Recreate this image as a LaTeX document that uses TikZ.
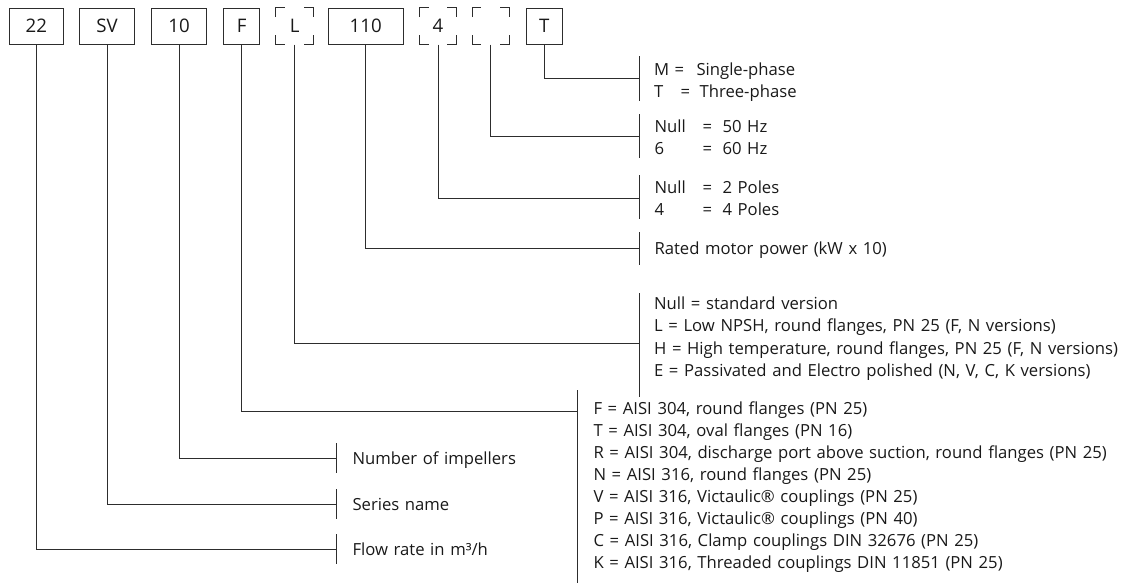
\documentclass[tikz,border=0pt]{standalone}
\usepackage{fontspec}
\setmainfont{Open Sans}[WordSpace=1.3]
\definecolor{lc}{RGB}{45,45,45}
\definecolor{tc}{RGB}{25,25,25}
\newcommand{\keycol}[2]{\makebox[#1][l]{#2}}
\begin{document}
\begin{tikzpicture}[x=0.75pt,y=-0.75pt,line width=0.75pt,
  box/.style={draw=lc, inner sep=0pt, minimum height=26.8pt, font=\fontsize{14}{16}\selectfont, text=tc},
  dbox/.style={box, draw=none},
  wide/.style={minimum width=40.9pt},
  narrow/.style={minimum width=27.4pt},
  xwide/.style={minimum width=56pt},
  lbl/.style={anchor=base west, inner sep=0pt, align=left, font=\fontsize{12.5}{16.5}\selectfont, text=tc},
  conn/.style={draw=lc},
  bar/.style={draw=lc}]
\useasboundingbox (0,0) rectangle (1132,583);

% code boxes
\node[box,wide]   (b22)  at (36.3,26.2)  {22};
\node[box,wide]   (bSV)  at (107,26.2)   {SV};
\node[box,wide]   (b10)  at (179,26.2)   {10};
\node[box,narrow] (bF)   at (241.6,26.2) {F};
\node[dbox,narrow](bL)   at (294.6,26.2) {L};
\node[box,xwide]  (b110) at (365.7,26.2) {110};
\node[dbox,narrow](b4)   at (438,26.2)   {4};
\node[dbox,narrow](bE)   at (490.8,26.2) {};
\node[box,narrow] (bT)   at (544.4,26.2) {T};

\foreach \n in {bL,b4,bE}{
  \draw[lc] ([yshift=-7pt]\n.north west) -- (\n.north west) -- ([xshift=7pt]\n.north west);
  \draw[lc] ([xshift=-7pt]\n.north east) -- (\n.north east) -- ([yshift=-7pt]\n.north east);
  \draw[lc] ([yshift=7pt]\n.south west) -- (\n.south west) -- ([xshift=7pt]\n.south west);
  \draw[lc] ([xshift=-7pt]\n.south east) -- (\n.south east) -- ([yshift=7pt]\n.south east);
}

% junction points and bars
\coordinate (jT)   at (639,78.3);  \coordinate (aT)   at (639,56);    \coordinate (zT)   at (639,101);
\coordinate (jE)   at (639,136);   \coordinate (aE)   at (639,114);   \coordinate (zE)   at (639,158);
\coordinate (j4)   at (639,198);   \coordinate (a4)   at (639,175);   \coordinate (z4)   at (639,219);
\coordinate (j110) at (639,248);   \coordinate (a110) at (639,232);   \coordinate (z110) at (639,265);
\coordinate (jL)   at (639,343);   \coordinate (aL)   at (639,293);   \coordinate (zL)   at (639,397);
\coordinate (jF)   at (577,411);   \coordinate (aF)   at (577,390);   \coordinate (zF)   at (577,583);
\coordinate (j10)  at (336,458.5); \coordinate (a10)  at (336,443);   \coordinate (z10)  at (336,473);
\coordinate (jSV)  at (336,504);   \coordinate (aSV)  at (336,489);   \coordinate (zSV)  at (336,519);
\coordinate (j22)  at (336,549);   \coordinate (a22)  at (336,534);   \coordinate (z22)  at (336,564);

\foreach \k in {T,E,4,110,L,F,10,SV,22}{
  \draw[conn] (b\k.south) |- (j\k);
  \draw[bar] (a\k) -- (z\k);
}

% labels (base anchor = baseline of the last line)
\node[lbl] (tT) at (653.5,97.2) {\keycol{15.4pt}{M}\keycol{16.5pt}{=}Single-phase\\\keycol{19.9pt}{T}\keycol{14.3pt}{=}Three-phase};
\node[lbl] (tE) at (654,154.2) {\keycol{36pt}{Null}\keycol{15pt}{=}50 Hz\\\keycol{36pt}{6}\keycol{15pt}{=}60 Hz};
\node[lbl] (t4) at (654,215.2) {\keycol{36pt}{Null}\keycol{15pt}{=}2 Poles\\\keycol{36pt}{4}\keycol{15pt}{=}4 Poles};
\node[lbl] (t110) at (654,254.2) {Rated motor power (kW x 10)};
\node[lbl,font=\fontsize{12.5}{16.9}\selectfont] (tL) at (653.6,376.7) {Null = standard version\\
L = Low NPSH, round flanges, PN 25 (F, N versions)\\
H = High temperature, round flanges, PN 25 (F, N versions)\\
E = Passivated and Electro polished (N, V, C, K versions)};
\node[lbl] (tF) at (593,568.8) {F = AISI 304, round flanges (PN 25)\\
T = AISI 304, oval flanges (PN 16)\\
R = AISI 304, discharge port above suction, round flanges (PN 25)\\
N = AISI 316, round flanges (PN 25)\\
V = AISI 316, Victaulic® couplings (PN 25)\\
P = AISI 316, Victaulic® couplings (PN 40)\\
C = AISI 316, Clamp couplings DIN 32676 (PN 25)\\
K = AISI 316, Threaded couplings DIN 11851 (PN 25)};
\node[lbl] (t10) at (352,464.7) {Number of impellers};
\node[lbl] (tSV) at (352,510.2) {Series name};
\node[lbl] (t22) at (352,555.2) {Flow rate in m³/h};
\end{tikzpicture}
\end{document}
